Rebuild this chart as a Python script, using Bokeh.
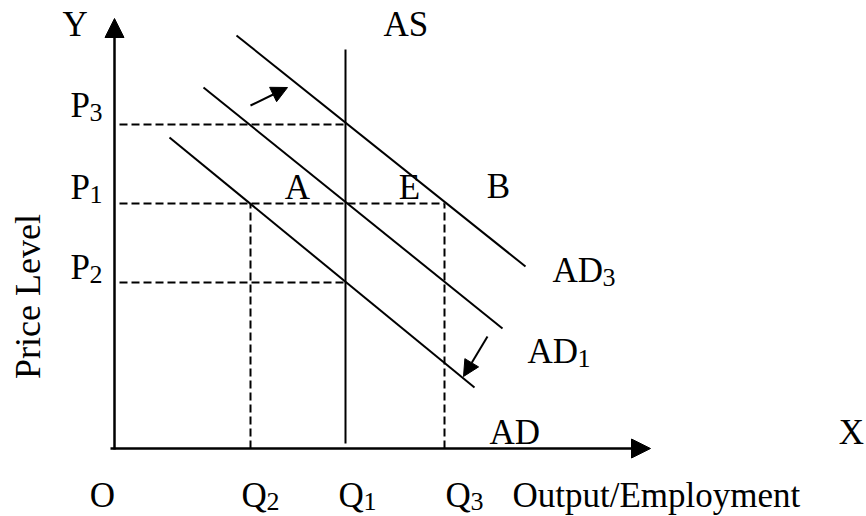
from bokeh.plotting import figure
from bokeh.models import Range1d, Arrow, NormalHead
from bokeh.embed import file_html
from bokeh.resources import INLINE
from bokeh.core.properties import value
import math

# ---- diagram values (origin O at 0,0; arbitrary units) ----
Q2, Q1, Q3 = 136, 231, 330          # output levels
P2, P1, P3 = 166, 245, 324          # price levels

# demand / supply schedules (start, end)
AD3_x = [122, 411]; AD3_y = [413, 182]
AD1_x = [89, 388];  AD1_y = [361, 120]
AD_x = [55, 360];   AD_y = [311, 61]
AS_x = [Q1, Q1];    AS_y = [5, 399]

# axis extents
X_END = 536
Y_END = 430

# shift arrows (tail -> head)
shift_up_x = [136, 173];   shift_up_y = [343, 361]
shift_down_x = [373, 349]; shift_down_y = [112, 72]

FONT = value("Liberation Serif")
DY = 13  # baseline correction for svg text

p = figure(width=866, height=516, output_backend="svg", toolbar_location=None,
           x_range=Range1d(-114, 752), y_range=Range1d(-68, 448),
           min_border=0, min_border_left=0, min_border_right=0,
           min_border_top=0, min_border_bottom=0)
p.axis.visible = False
p.grid.visible = False
p.outline_line_color = None
p.background_fill_color = "white"

# axes with arrow heads
p.add_layout(Arrow(end=NormalHead(size=19, fill_color="black", line_color="black"),
                   x_start=0, y_start=-1, x_end=0, y_end=Y_END,
                   line_width=2.5, line_color="black"))
p.add_layout(Arrow(end=NormalHead(size=19, fill_color="black", line_color="black"),
                   x_start=-4, y_start=0, x_end=X_END, y_end=0,
                   line_width=2.5, line_color="black"))

# dashed guides
p.multi_line(xs=[[5, Q1], [5, Q3], [5, Q1], [Q2, Q2], [Q3, Q3]],
             ys=[[P3, P3], [P1, P1], [P2, P2], [0, P1], [0, P1]],
             line_color="black", line_width=2, line_dash="8 4")

# curves
p.multi_line(xs=[AD3_x, AD1_x, AD_x, AS_x], ys=[AD3_y, AD1_y, AD_y, AS_y],
             line_color="black", line_width=2)

# shift arrows
for xs, ys in [(shift_up_x, shift_up_y), (shift_down_x, shift_down_y)]:
    p.add_layout(Arrow(end=NormalHead(size=16, fill_color="black", line_color="black"),
                       x_start=xs[0], y_start=ys[0], x_end=xs[1], y_end=ys[1],
                       line_width=2, line_color="black"))

BASE = -60  # baseline of bottom label row

def up(vals):
    return [v + DY for v in vals]

# main labels, left aligned
p.text(x=[-52, 269, -44, -44, -44, 438, 413, 375, Q2 - 9, Q1 - 7, Q3 + 1, 398],
       y=up([411, 411, P3 + 6, P1 + 3, P2 + 2, 165, 84, 3, BASE, BASE, BASE, BASE]),
       text=["Y", "AS", "P", "P", "P", "AD", "AD", "AD", "Q", "Q", "Q", "Output/Employment"],
       text_font=FONT, text_font_size="35px", text_align="left",
       text_baseline="alphabetic", text_color="black")

# centered labels
p.text(x=[183, 295, 384, -12, 737], y=up([P1 + 3, P1 + 3, P1 + 4, BASE, 3]),
       text=["A", "E", "B", "O", "X"],
       text_font=FONT, text_font_size="35px", text_align="center",
       text_baseline="alphabetic", text_color="black")

# subscripts
p.text(x=[-25, -25, -25, 488, 463, Q2 + 16, Q1 + 18, Q3 + 26],
       y=up([P3 + 2, P1 - 1, P2 - 2, 161, 80, BASE - 3, BASE - 3, BASE - 3]),
       text=["3", "1", "2", "3", "1", "2", "1", "3"],
       text_font=FONT, text_font_size="26px", text_align="left",
       text_baseline="alphabetic", text_color="black", y_offset=3)

# vertical axis title
p.text(x=[-74 - DY], y=[152], text=["Price Level"], angle=math.pi / 2,
       text_font=FONT, text_font_size="36px", text_align="center",
       text_baseline="alphabetic", text_color="black")

open("out.html", "w").write(file_html(p, INLINE))
